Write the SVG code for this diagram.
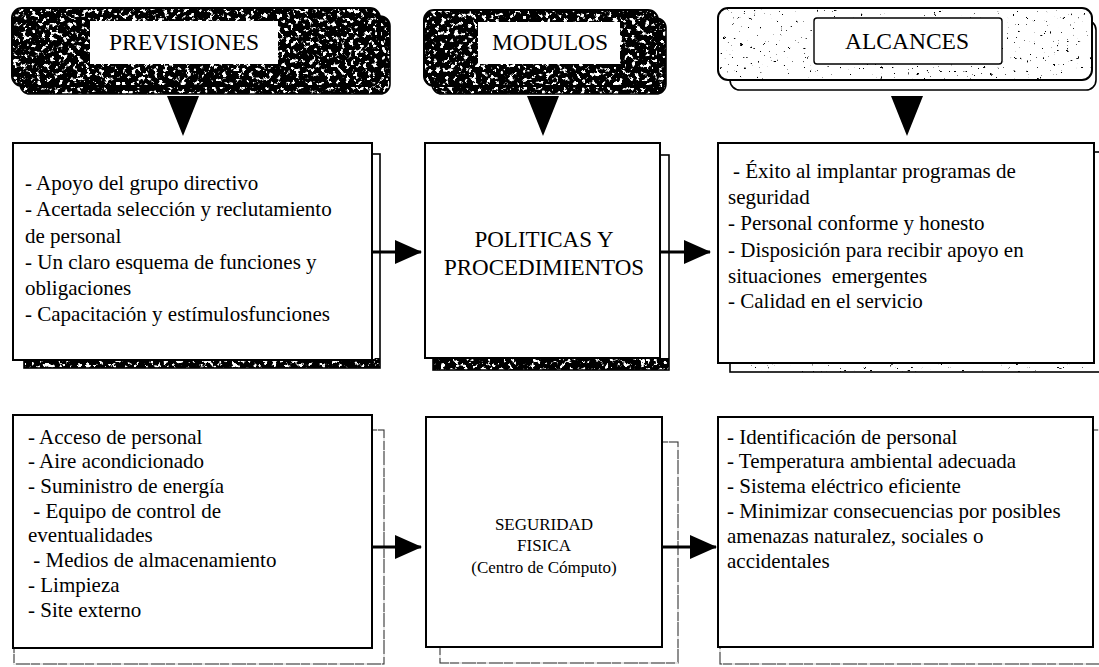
<svg xmlns="http://www.w3.org/2000/svg" width="1099" height="667" viewBox="0 0 1099 667">
  <style>
    .body { font-family: "Liberation Serif", "Times New Roman", serif; font-size: 21px; fill: #000; }
    .head { font-family: "Liberation Serif", "Times New Roman", serif; font-size: 23.5px; fill: #000; text-anchor: middle; }
    .title { font-family: "Liberation Serif", "Times New Roman", serif; font-size: 23px; fill: #000; text-anchor: middle; }
    .small { font-family: "Liberation Serif", "Times New Roman", serif; font-size: 17px; fill: #000; text-anchor: middle; }
    .box { fill: #fff; stroke: #000; stroke-width: 2; }
    .back { fill: #fff; stroke: #000; stroke-width: 1.6; }
    .ghost { fill: #fff; stroke: #333; stroke-width: 1.1; }
    .faint { fill: none; stroke: #fff; stroke-width: 1.6; stroke-dasharray: 3 9 1 14; }
    .edge { fill: none; stroke: #000; stroke-width: 3; }
    .label { fill: #fff; }
    .outline { fill: none; stroke: #000; stroke-width: 1.4; }
  </style>
  <defs>
    <!-- speckled ink texture, clipped to the shape it is applied to -->
    <filter id="grainDark" x="0" y="0" width="100%" height="100%">
      <feTurbulence type="fractalNoise" baseFrequency="0.22" numOctaves="4" seed="7"/>
      <feColorMatrix type="matrix" values="0 0 0 0 0  0 0 0 0 0  0 0 0 0 0  -12 0 0 0 7.9"/>
      <feComposite in2="SourceGraphic" operator="in"/>
    </filter>
    <filter id="grainLight" x="0" y="0" width="100%" height="100%">
      <feTurbulence type="fractalNoise" baseFrequency="0.3" numOctaves="4" seed="11"/>
      <feColorMatrix type="matrix" values="0 0 0 0 0  0 0 0 0 0  0 0 0 0 0  -16 0 0 0 4.2"/>
      <feComposite in2="SourceGraphic" operator="in"/>
    </filter>
    <marker id="arrow" markerUnits="userSpaceOnUse" markerWidth="28" markerHeight="24" refX="26" refY="12" orient="auto">
      <path d="M0,0 L27,12 L0,24 Z" fill="#000"/>
    </marker>
  </defs>

  <!-- header banners -->
  <g id="hdr-previsiones">
    <rect x="20" y="16" width="370" height="78" rx="10" class="back"/>
    <rect x="20" y="16" width="370" height="78" rx="10" fill="#000" filter="url(#grainDark)"/>
    <rect x="12" y="8" width="368" height="78" rx="10" class="box"/>
    <rect x="12" y="8" width="368" height="78" rx="10" fill="#000" filter="url(#grainDark)"/>
    <rect x="90" y="21" width="188" height="43" class="label"/>
    <text x="184" y="50" class="head">PREVISIONES</text>
  </g>
  <g id="hdr-modulos">
    <rect x="432" y="18" width="234" height="76" rx="10" class="back"/>
    <rect x="432" y="18" width="234" height="76" rx="10" fill="#000" filter="url(#grainDark)"/>
    <rect x="424" y="10" width="234" height="76" rx="10" class="box"/>
    <rect x="424" y="10" width="234" height="76" rx="10" fill="#000" filter="url(#grainDark)"/>
    <rect x="478" y="22" width="142" height="42" class="label"/>
    <text x="550" y="50" class="head">MODULOS</text>
  </g>
  <g id="hdr-alcances">
    <rect x="730" y="20" width="366" height="70" rx="10" class="back"/>
    <rect x="718" y="8" width="374" height="72" rx="10" class="box"/>
    <rect x="718" y="8" width="374" height="72" rx="10" fill="#000" filter="url(#grainLight)"/>
    <rect x="814" y="18" width="188" height="46" class="label"/>
    <rect x="814" y="18" width="188" height="46" rx="3" class="outline"/>
    <text x="907" y="49" class="head">ALCANCES</text>
  </g>

  <!-- top row -->
  <g id="previsiones">
    <rect x="24" y="154" width="356" height="214" class="back"/>
    <rect x="24" y="358" width="356" height="10" fill="#000" filter="url(#grainDark)"/>
    <rect x="13" y="143" width="359" height="217" class="box"/>
    <text class="body">
      <tspan x="25" y="190">- Apoyo del grupo directivo</tspan>
      <tspan x="25" y="216">- Acertada selección y reclutamiento</tspan>
      <tspan x="25" y="243">de personal</tspan>
      <tspan x="25" y="269">- Un claro esquema de funciones y</tspan>
      <tspan x="25" y="295">obligaciones</tspan>
      <tspan x="25" y="321">- Capacitación y estímulosfunciones</tspan>
    </text>
  </g>
  <g id="politicas">
    <rect x="433" y="155" width="236" height="215" class="back"/>
    <rect x="433" y="358" width="236" height="12" fill="#000" filter="url(#grainDark)"/>
    <rect x="425" y="143" width="235" height="215" class="box"/>
    <text x="544" y="247" class="title">POLITICAS Y</text>
    <text x="544" y="275" class="title">PROCEDIMIENTOS</text>
  </g>
  <g id="alcances">
    <rect x="730" y="152" width="380" height="220" class="back"/>
    <rect x="730" y="362" width="380" height="10" fill="#000" filter="url(#grainLight)"/>
    <rect x="718" y="143" width="376" height="220" class="box"/>
    <text class="body">
      <tspan x="733" y="178">- Éxito al implantar programas de</tspan>
      <tspan x="728" y="204">seguridad</tspan>
      <tspan x="728" y="230">- Personal conforme y honesto</tspan>
      <tspan x="728" y="257">- Disposición para recibir apoyo en</tspan>
      <tspan x="728" y="283" xml:space="preserve">situaciones  emergentes</tspan>
      <tspan x="728" y="308">- Calidad en el servicio</tspan>
    </text>
  </g>

  <!-- bottom row -->
  <g id="fisica-insumos">
    <rect x="14" y="430" width="370" height="234" class="ghost"/>
    <rect x="14" y="430" width="370" height="234" class="faint"/>
    <rect x="13" y="415" width="359" height="233" class="box"/>
    <text class="body">
      <tspan x="28" y="444">- Acceso de personal</tspan>
      <tspan x="28" y="468">- Aire acondicionado</tspan>
      <tspan x="28" y="493">- Suministro de energía</tspan>
      <tspan x="28" y="518" xml:space="preserve"> - Equipo de control de</tspan>
      <tspan x="28" y="542">eventualidades</tspan>
      <tspan x="28" y="567" xml:space="preserve"> - Medios de almacenamiento</tspan>
      <tspan x="28" y="592">- Limpieza</tspan>
      <tspan x="28" y="617">- Site externo</tspan>
    </text>
  </g>
  <g id="seguridad-fisica">
    <rect x="440" y="442" width="238" height="221" class="ghost"/>
    <rect x="440" y="442" width="238" height="221" class="faint"/>
    <rect x="426" y="417" width="236" height="230" class="box"/>
    <text x="544" y="530" class="small">SEGURIDAD</text>
    <text x="544" y="551" class="small">FISICA</text>
    <text x="544" y="573" class="small">(Centro de Cómputo)</text>
  </g>
  <g id="fisica-alcances">
    <rect x="720" y="430" width="390" height="234" class="ghost"/>
    <rect x="720" y="430" width="390" height="234" class="faint"/>
    <rect x="718" y="417" width="375" height="230" class="box"/>
    <text class="body">
      <tspan x="727" y="444">- Identificación de personal</tspan>
      <tspan x="727" y="468">- Temperatura ambiental adecuada</tspan>
      <tspan x="727" y="493">- Sistema eléctrico eficiente</tspan>
      <tspan x="727" y="518">- Minimizar consecuencias por posibles</tspan>
      <tspan x="727" y="543">amenazas naturalez, sociales o</tspan>
      <tspan x="727" y="568">accidentales</tspan>
    </text>
  </g>

  <!-- connectors -->
  <g id="connectors">
    <polygon points="167,96 199,96 183,136" fill="#000"/>
    <polygon points="527,96 559,96 543,136" fill="#000"/>
    <polygon points="891,96 923,96 907,136" fill="#000"/>
    <line x1="372" y1="252" x2="421" y2="252" class="edge" marker-end="url(#arrow)"/>
    <line x1="660" y1="252" x2="710" y2="252" class="edge" marker-end="url(#arrow)"/>
    <line x1="372" y1="547" x2="421" y2="547" class="edge" marker-end="url(#arrow)"/>
    <line x1="662" y1="547" x2="716" y2="547" class="edge" marker-end="url(#arrow)"/>
  </g>
</svg>
